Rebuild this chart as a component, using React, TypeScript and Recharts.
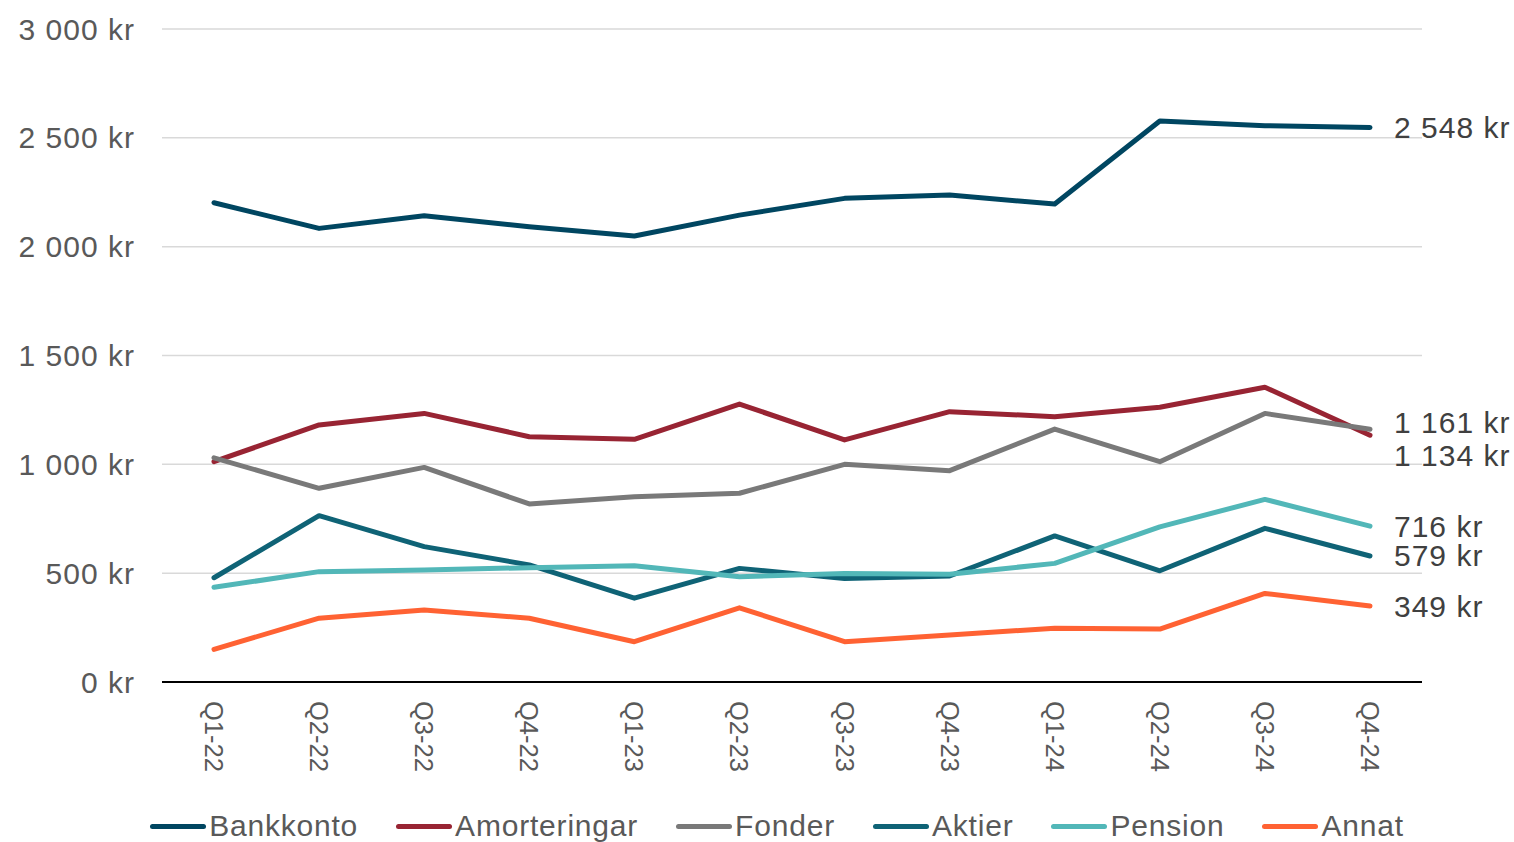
import { CartesianGrid, LabelList, Legend, Line, LineChart, XAxis, YAxis } from "recharts";

const QUARTERS = ["Q1-22", "Q2-22", "Q3-22", "Q4-22", "Q1-23", "Q2-23", "Q3-23", "Q4-23", "Q1-24", "Q2-24", "Q3-24", "Q4-24"];

const BANKKONTO = [2202, 2084, 2142, 2092, 2049, 2145, 2222, 2237, 2196, 2577, 2556, 2548];
const AMORTERINGAR = [1012, 1181, 1234, 1127, 1115, 1277, 1112, 1242, 1219, 1262, 1354, 1134];
const FONDER = [1030, 890, 986, 818, 851, 867, 1000, 971, 1162, 1012, 1234, 1161];
const AKTIER = [479, 764, 622, 538, 385, 522, 476, 487, 671, 511, 706, 579];
const PENSION = [435, 507, 515, 525, 534, 484, 499, 495, 545, 713, 839, 716];
const ANNAT = [150, 293, 331, 293, 185, 341, 185, 216, 247, 243, 407, 349];

const Y_TICKS = [0, 500, 1000, 1500, 2000, 2500, 3000];

const SERIES = [
  { key: "Bankkonto", values: BANKKONTO, color: "#004661", labelDy: 0 },
  { key: "Amorteringar", values: AMORTERINGAR, color: "#982433", labelDy: 20 },
  { key: "Fonder", values: FONDER, color: "#797979", labelDy: -7 },
  { key: "Aktier", values: AKTIER, color: "#0f6376", labelDy: 0 },
  { key: "Pension", values: PENSION, color: "#52b7b8", labelDy: 0 },
  { key: "Annat", values: ANNAT, color: "#ff6233", labelDy: 0 }
];

const data = QUARTERS.map((q, i) => {
  const row: Record<string, string | number> = { quarter: q };
  SERIES.forEach((s) => {
    row[s.key] = s.values[i];
  });
  return row;
});

const FONT = "'Liberation Sans', Arial, sans-serif";
const TEXT = "#595959";

const kr = (n: number) => String(n).replace(/\B(?=(\d{3})+(?!\d))/g, " ") + " kr";

function XTick({ x, y, payload }: any) {
  return (
    <text
      x={x}
      y={y}
      transform={`rotate(90, ${x}, ${y})`}
      textAnchor="start"
      dominantBaseline="central"
      fill={TEXT}
      fontSize={25.5}
      fontFamily={FONT}
    >
      {payload.value}
    </text>
  );
}

function endLabel(dy: number) {
  return (props: any) => {
    const { x, y, value, index } = props;
    if (index !== QUARTERS.length - 1) return null;
    return (
      <text
        x={x + 24}
        y={y + dy}
        dominantBaseline="central"
        fill="#404040"
        fontSize={30}
        letterSpacing={1}
        fontFamily={FONT}
      >
        {kr(value)}
      </text>
    );
  };
}

function LegendBox() {
  return (
    <div
      style={{
        height: 36,
        display: "flex",
        justifyContent: "center",
        alignItems: "center",
        gap: 38,
        paddingLeft: 132,
        fontFamily: FONT,
        fontSize: 30,
        letterSpacing: 0.8,
        color: TEXT
      }}
    >
      {SERIES.map((s) => (
        <div key={s.key} style={{ display: "flex", alignItems: "center", gap: 3 }}>
          <span style={{ display: "inline-block", width: 56, height: 5, borderRadius: 3, background: s.color }} />
          <span>{s.key}</span>
        </div>
      ))}
    </div>
  );
}

export default function App() {
  return (
    <div style={{ position: "absolute", left: 0, top: 0, background: "#fff" }}>
      <LineChart width={1514} height={860} data={data} margin={{ top: 29, right: 92, left: 0, bottom: 16 }}>
        <CartesianGrid vertical={false} stroke="#d9d9d9" strokeWidth={1.5} />
        <XAxis
          dataKey="quarter"
          height={126}
          padding={{ left: 52, right: 52 }}
          axisLine={{ stroke: "#000", strokeWidth: 2 }}
          tickLine={false}
          tick={<XTick />}
          tickMargin={13}
          interval={0}
        />
        <YAxis
          width={162}
          domain={[0, 3000]}
          ticks={Y_TICKS}
          axisLine={false}
          tickLine={false}
          tickMargin={21}
          tickFormatter={kr}
          tick={{ fill: TEXT, fontSize: 30, fontFamily: FONT, letterSpacing: 1 }}
        />
        <Legend verticalAlign="bottom" content={<LegendBox />} />
        {SERIES.map((s) => (
          <Line
            key={s.key}
            dataKey={s.key}
            stroke={s.color}
            strokeWidth={5}
            strokeLinecap="round"
            strokeLinejoin="round"
            dot={false}
            activeDot={false}
            isAnimationActive={false}
          >
            <LabelList dataKey={s.key} content={endLabel(s.labelDy)} />
          </Line>
        ))}
      </LineChart>
    </div>
  );
}
